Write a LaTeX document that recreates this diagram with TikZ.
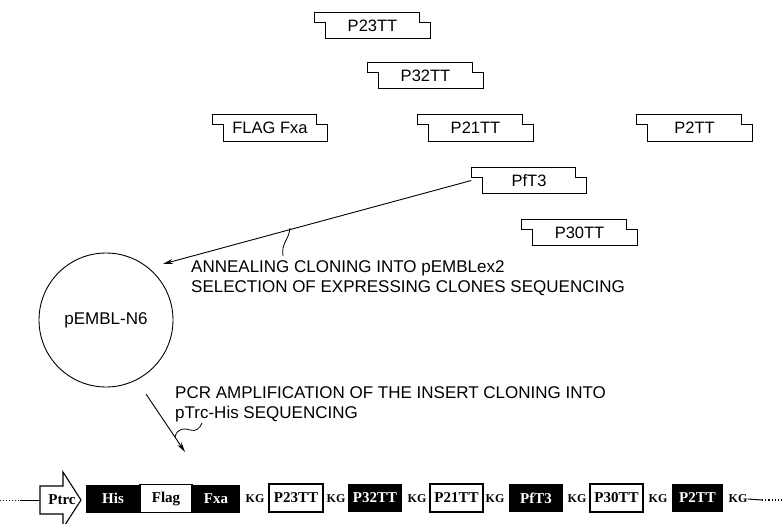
\documentclass[tikz,border=0pt]{standalone}
\usepackage{fontspec}
\setmainfont{Liberation Sans}
\newfontfamily\tnr{Liberation Serif}
\usetikzlibrary{arrows.meta,calc}
\newcommand{\drawoligo}[4]{%
  \node[oligo] (#1) at (#2,#3) {#4};
  \draw[oline] (#1.north west) -- ([xshift=-11pt]#1.north east)
    -- ([xshift=-11pt,yshift=-10pt]#1.north east) -- ([yshift=-10pt]#1.north east)
    -- (#1.south east) -- ([xshift=11pt]#1.south west)
    -- ([xshift=11pt,yshift=-10pt]#1.north west) -- ([yshift=-10pt]#1.north west) -- cycle;
}
\begin{document}
\begin{tikzpicture}[x=1pt,y=-1pt,
  oligo/.style={minimum width=115pt,minimum height=26pt,inner sep=0pt,font=\fontsize{16.5}{18}\selectfont},
  oline/.style={line width=1.1pt},
  lbl/.style={font=\fontsize{17}{20}\selectfont,anchor=base west,inner sep=0pt},
  conn/.style={line width=0.9pt,-{Stealth[length=10pt,width=5pt]}},
  lead/.style={line width=0.8pt},
  seg/.style={minimum height=28pt,inner sep=0pt,font=\tnr\bfseries\fontsize{15}{16}\selectfont},
  wseg/.style={seg,draw,line width=1.3pt,fill=white},
  bseg/.style={seg,fill=black,text=white},
  kg/.style={inner sep=0pt,font=\tnr\bfseries\fontsize{12}{13}\selectfont},
]
\useasboundingbox (0,0) rectangle (784,524);

% oligonucleotides
\drawoligo{o23}{372.5}{25.5}{P23TT}
\drawoligo{o32}{425.5}{75.5}{P32TT}
\drawoligo{oflag}{270}{128}{FLAG Fxa}
\drawoligo{o21}{475.5}{128}{P21TT}
\drawoligo{o2}{694.5}{128}{P2TT}
\drawoligo{of3}{529}{180.5}{PfT3}
\drawoligo{o30}{579.5}{232.5}{P30TT}

% plasmid
\node[draw,circle,minimum size=134pt,line width=0.9pt,inner sep=0pt,
      font=\fontsize{17}{20}\selectfont] (pembl) at (106,320) {pEMBL-N6};

% arrow 1
\coordinate (a1end) at (163,264);
\draw[conn] (of3.west) -- (a1end);
\coordinate (s1a) at (290,228);
\coordinate (s1b) at (283,256);
\draw[lead] (s1a) .. controls (289,240) and (281,243) .. (s1b);
\node[lbl] (t1) at (191,272) {ANNEALING CLONING INTO pEMBLex2};
\node[lbl] (t2) at (191,292) {SELECTION OF EXPRESSING CLONES SEQUENCING};

% arrow 2
\coordinate (a2start) at (146,394);
\coordinate (a2end) at (185,452);
\draw[conn] (a2start) -- (a2end);
\coordinate (s2a) at (175,437);
\coordinate (s2b) at (202,423);
\draw[lead] (s2a) .. controls (177,428) and (185,428) .. (190,430) .. controls (196,432) and (200,428) .. (s2b);
\node[lbl] (t3) at (175,398) {PCR AMPLIFICATION OF THE INSERT CLONING INTO};
\node[lbl] (t4) at (175,418) {pTrc-His SEQUENCING};

% construct
\coordinate (l0) at (0,500);
\coordinate (l1) at (20,500);
\coordinate (ptrcw) at (40,500);
\draw[line width=1pt,dotted] (l0) -- (l1);
\draw[line width=1pt] (l1) -- (ptrcw);
\draw[line width=1.1pt,fill=white] (40,486) -- (63,486) -- (63,472) -- (81,500) -- (63,528) -- (63,514) -- (40,514) -- cycle;
\node[seg,minimum height=0pt] (ptrc) at (62,500) {Ptrc};

\node[bseg,minimum width=54pt] (his) at (113,498.5) {His};
\node[wseg,minimum width=52pt] (flag) at (166,498.5) {Flag};
\node[bseg,minimum width=48pt] (fxa) at (216,498.5) {Fxa};

\node[kg] (k1) at (255,499) {KG};
\node[wseg,minimum width=54pt] (b23) at (296,498) {P23TT};
\node[kg] (k2) at (336,499) {KG};
\node[bseg,minimum width=54pt] (b32) at (375,498) {P32TT};
\node[kg] (k3) at (417,499) {KG};
\node[wseg,minimum width=53pt] (b21) at (456.5,498) {P21TT};
\node[kg] (k4) at (495,499) {KG};
\node[bseg,minimum width=54pt] (bf3) at (536,498) {PfT3};
\node[kg] (k5) at (577,499) {KG};
\node[wseg,minimum width=53pt] (b30) at (616.5,498) {P30TT};
\node[kg] (k6) at (658,499) {KG};
\node[bseg,minimum width=51pt] (b2) at (697.5,498) {P2TT};
\node[kg] (k7) at (738,499) {KG};

\coordinate (r1) at (762,500);
\coordinate (r2) at (784,500);
\draw[line width=1pt] (k7.east) -- (r1);
\draw[line width=1.2pt,dotted] (r1) -- (r2);
\end{tikzpicture}
\end{document}
